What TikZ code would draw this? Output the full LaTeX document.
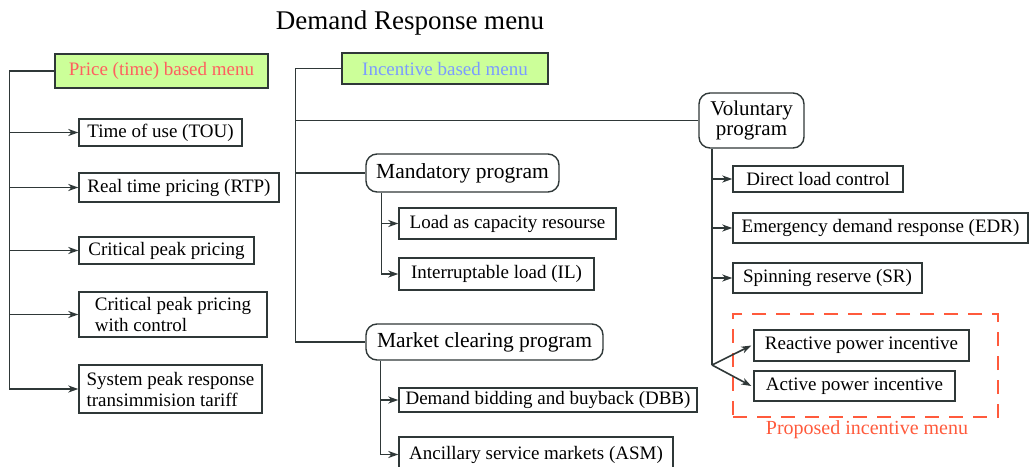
\documentclass[tikz,border=0pt]{standalone}
\usepackage{fontspec}
\setmainfont{Liberation Serif}
\usetikzlibrary{arrows.meta}

\definecolor{menugreen}{HTML}{CCFF99}
\definecolor{pricered}{HTML}{FF5F5F}
\definecolor{incblue}{HTML}{7B9BFF}
\definecolor{propred}{HTML}{FF5A3C}
\definecolor{linegray}{HTML}{2F3838}

\tikzset{
  item/.style={draw=linegray, line width=1.4pt, inner sep=0pt, align=left,
               font=\fontsize{19}{21}\selectfont},
  prog/.style={item, rounded corners=11pt, font=\fontsize{21.5}{22}\selectfont},
  menu/.style={item, fill=menugreen},
  frame/.style={draw=propred, line width=2.4pt, dash pattern=on 14pt off 10pt},
  link/.style={draw=linegray, line width=1.6pt},
  arr/.style={link, -{Stealth[length=10pt,width=7pt,inset=3pt]}},
}

% box node from its corner coordinates: style, name, x1, y1, x2, y2, text
\newcommand\boxnode[7]{%
  \node[#1, minimum width={#5-#3}, minimum height={#6-#4}]
    (#2) at ({(#3+#5)/2},{(#4+#6)/2}) {#7};}

\begin{document}
\begin{tikzpicture}[x=1pt, y=-1pt]
\useasboundingbox (0,0) rectangle (1030,466);

\node[font=\fontsize{27}{30}\selectfont] (title) at (410,23) {Demand Response menu};

% price based branch
\boxnode{menu, text=pricered}{price}{55}{54}{268}{88}{Price (time) based menu}
\boxnode{item}{tou}{79}{119}{242}{146}{Time of use (TOU)}
\boxnode{item}{rtp}{79}{173}{279}{202}{Real time pricing (RTP)}
\boxnode{item}{cpp}{79}{237}{254}{264}{Critical peak pricing}
\boxnode{item}{cppc}{79}{292}{267}{337}{Critical peak pricing\\with control}
\boxnode{item}{spr}{79}{365}{262}{413}{System peak response\\transimmision tariff}

\draw[link] (price.west) -- ++(-45,0) coordinate (ptop);
\foreach \n in {tou,rtp,cpp,cppc}
  \draw[arr] (ptop |- \n.west) -- (\n.west);
\draw[arr] (ptop) |- (spr.west);

% incentive based branch
\boxnode{menu, text=incblue}{incentive}{342}{53}{548}{84}{Incentive based menu}
\boxnode{prog}{mand}{366}{154}{559}{192}{Mandatory program}
\boxnode{item}{lac}{399}{208}{616}{239}{Load as capacity resourse}
\boxnode{item}{il}{399}{258}{594}{290}{Interruptable load (IL)}
\boxnode{prog}{market}{366}{324}{603}{360}{Market clearing program}
\boxnode{item}{dbb}{399}{388}{697}{412}{Demand bidding and buyback (DBB)}
\boxnode{item}{asm}{399}{437}{673}{472}{Ancillary service markets (ASM)}
\boxnode{prog, align=center, font=\fontsize{21}{20}\selectfont}{vol}{699}{93}{804}{148}{Voluntary\\program}
\boxnode{item}{dlc}{733}{166}{903}{192}{Direct load control}
\boxnode{item}{edr}{733}{213}{1028}{243}{Emergency demand response (EDR)}
\boxnode{item}{sr}{733}{263}{922}{293}{Spinning reserve (SR)}

\draw[link] (incentive.west) -- ++(-46,0) coordinate (itop);
\draw[link] (itop) |- (market.west);
\draw[link] (itop |- vol.west) -- (vol.west);
\draw[link] (itop |- mand.west) -- (mand.west);

\coordinate (mtop) at ([xshift=16pt]mand.south west);
\draw[arr] (mtop) |- (il.west);
\draw[arr] (mtop |- lac.west) -- (lac.west);

\coordinate (ktop) at ([xshift=15pt]market.south west);
\draw[arr] (ktop) |- (asm.west);
\draw[arr] (ktop |- dbb.west) -- (dbb.west);

% proposed incentives
\boxnode{frame}{proposed}{733}{314}{998}{417}{}
\boxnode{item}{react}{754}{330}{969}{361}{Reactive power incentive}
\boxnode{item}{act}{754}{371}{955}{401}{Active power incentive}
\node[text=propred, font=\fontsize{20}{22}\selectfont] (proplabel) at (867,430) {Proposed incentive menu};

\coordinate (fork) at (712,365);
\coordinate (vtop) at (fork |- vol.south);
\draw[link] (vtop) -- (fork);
\foreach \n in {dlc,edr,sr}
  \draw[arr] (vtop |- \n.west) -- (\n.west);
\draw[arr] (fork) -- ([xshift=-2pt]react.west);
\draw[arr] (fork) -- ([xshift=-2pt]act.west);
\end{tikzpicture}
\end{document}
